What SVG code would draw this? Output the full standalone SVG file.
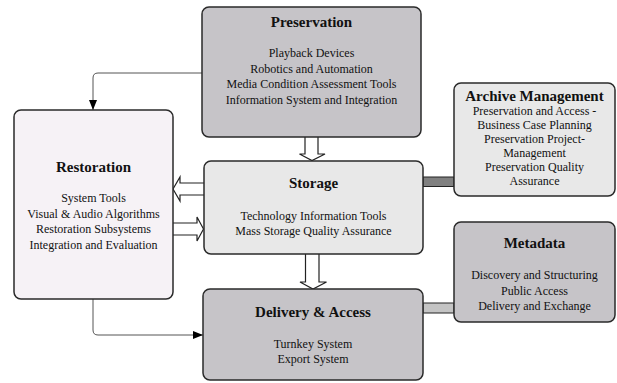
<svg xmlns="http://www.w3.org/2000/svg" width="617" height="383" viewBox="0 0 617 383">
<style>
.box{stroke:#2a2a2a;stroke-width:1.5}
.dark{fill:#c6c4c8}
.light{fill:#e8e8e8}
.pink{fill:#f6f2f6}
text{font-family:"Liberation Serif","Times New Roman",serif;fill:#111;text-anchor:middle}
.t{font-size:15px;font-weight:bold}
.b{font-size:12px}
.line{fill:none;stroke:#555;stroke-width:1}
.hollow{fill:#fff;stroke:#222;stroke-width:1.2}
</style>
<defs>
<marker id="ah" markerWidth="10" markerHeight="10" refX="10" refY="5" orient="auto" markerUnits="userSpaceOnUse">
<path d="M0,1 L10,5 L0,9 Z" fill="#000"/>
</marker>
</defs>
<g id="connectors">
<path class="line" d="M202,73 H98 Q93,73 93,78 V110" marker-end="url(#ah)"/>
<path class="line" d="M93,299 V330 Q93,335 98,335 H203" marker-end="url(#ah)"/>
<path class="hollow" d="M305,137 V154 H299.5 L312,160.5 L325,154 H318 V137"/>
<path class="hollow" d="M305.5,254 V282 H300 L313,289 L326.5,282 H319 V254"/>
<path class="hollow" d="M204,183 H180 V177 L173,189 L180,201 V195 H204"/>
<path class="hollow" d="M173,223 H197 V217 L203.5,229 L197,241 V235 H173"/>
<rect x="423" y="177" width="31" height="9.5" fill="#808080" stroke="#222" stroke-width="1"/>
<rect x="423" y="303" width="31" height="10" fill="#c4c4c4" stroke="#222" stroke-width="1"/>
</g>
<g id="preservation">
<rect class="box dark" x="202" y="7" width="219" height="130" rx="7"/>
<text class="t" x="311.5" y="27">Preservation</text>
<text class="b" x="311.5" y="57">Playback Devices</text>
<text class="b" x="311.5" y="72.5">Robotics and Automation</text>
<text class="b" x="311.5" y="88">Media Condition Assessment Tools</text>
<text class="b" x="311.5" y="103.5">Information System and Integration</text>
</g>
<g id="restoration">
<rect class="box pink" x="14" y="110" width="159" height="189" rx="7"/>
<text class="t" x="93.5" y="172">Restoration</text>
<text class="b" x="93.5" y="202">System Tools</text>
<text class="b" x="93.5" y="217.5">Visual &amp; Audio Algorithms</text>
<text class="b" x="93.5" y="233">Restoration Subsystems</text>
<text class="b" x="93.5" y="248.5">Integration and Evaluation</text>
</g>
<g id="storage">
<rect class="box light" x="204" y="161" width="219" height="93" rx="7"/>
<text class="t" x="313.5" y="188">Storage</text>
<text class="b" x="313.5" y="220">Technology Information Tools</text>
<text class="b" x="313.5" y="235">Mass Storage Quality Assurance</text>
</g>
<g id="delivery">
<rect class="box dark" x="203" y="289" width="220" height="91" rx="7"/>
<text class="t" x="313" y="317">Delivery &amp; Access</text>
<text class="b" x="313" y="348">Turnkey System</text>
<text class="b" x="313" y="363">Export System</text>
</g>
<g id="archive">
<rect class="box light" x="454" y="83" width="161" height="113" rx="7"/>
<text class="t" x="534.5" y="101">Archive Management</text>
<text class="b" x="534.5" y="115">Preservation and Access -</text>
<text class="b" x="534.5" y="129">Business Case Planning</text>
<text class="b" x="534.5" y="143">Preservation Project-</text>
<text class="b" x="534.5" y="157">Management</text>
<text class="b" x="534.5" y="171">Preservation Quality</text>
<text class="b" x="534.5" y="185">Assurance</text>
</g>
<g id="metadata">
<rect class="box dark" x="454" y="222" width="161" height="100" rx="7"/>
<text class="t" x="534.5" y="248">Metadata</text>
<text class="b" x="534.5" y="279">Discovery and Structuring</text>
<text class="b" x="534.5" y="294.5">Public Access</text>
<text class="b" x="534.5" y="310">Delivery and Exchange</text>
</g>
</svg>
